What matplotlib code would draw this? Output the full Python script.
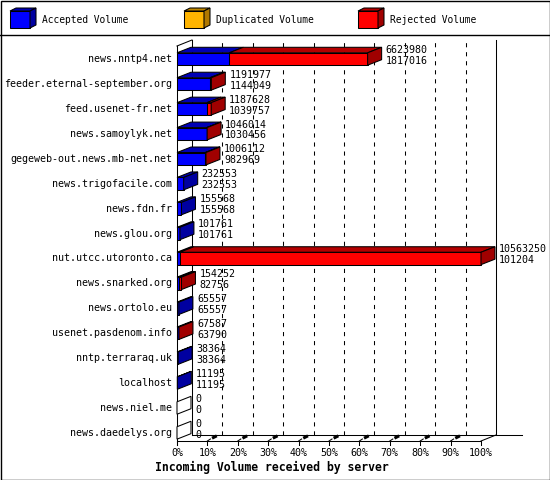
import matplotlib
matplotlib.use("Agg")
import matplotlib.pyplot as plt
from matplotlib.patches import Polygon, Rectangle
from matplotlib.lines import Line2D
from matplotlib.transforms import Affine2D

# données
servers = ["news.nntp4.net", "feeder.eternal-september.org", "feed.usenet-fr.net",
           "news.samoylyk.net", "gegeweb-out.news.mb-net.net", "news.trigofacile.com",
           "news.fdn.fr", "news.glou.org", "nut.utcc.utoronto.ca", "news.snarked.org",
           "news.ortolo.eu", "usenet.pasdenom.info", "nntp.terraraq.uk", "localhost",
           "news.niel.me", "news.daedelys.org"]
total = [6623980, 1191977, 1187628, 1046014, 1006112, 232553, 155568, 101761,
         10563250, 154252, 65557, 67587, 38364, 11195, 0, 0]
accepted = [1817016, 1144049, 1039757, 1030456, 982969, 232553, 155568, 101761,
            101204, 82756, 65557, 63790, 38364, 11195, 0, 0]
duplicated = [0, 0, 0, 0, 0, 0, 0, 0, 0, 0, 0, 0, 0, 0, 0, 0]
ticks = [0, 10, 20, 30, 40, 50, 60, 70, 80, 90, 100]
legend_names = ["Accepted Volume", "Duplicated Volume", "Rejected Volume"]

# couleurs (face avant, dessus, côté)
colors = [("#0000ff", "#0000b4", "#0000a0"),
          ("#ffb400", "#c08800", "#b07800"),
          ("#ff0000", "#b40000", "#a00000")]

W, H = 550, 480
MONO = "DejaVu Sans Mono"
plt.rcParams["lines.scale_dashes"] = False

fig = plt.figure(figsize=(W / 100, H / 100), dpi=100)
pix = Affine2D().scale(1 / W, -1 / H).translate(0, 1) + fig.transFigure


def row(p):
    return (p - 59) / 24.93


ax = fig.add_axes([177 / W, 1 - 441 / H, 304 / W, 401 / H])
ax.set_xlim(0, 100)
ax.set_ylim(row(441), row(40))
ax.axis("off")

PX = 100 / 304        # % par pixel
PY = 1 / 24.93        # ligne par pixel
LW = 0.75


def face(pts, color, z=3):
    ax.add_patch(Polygon(pts, closed=True, fc=color, ec="black", lw=LW,
                         zorder=z, clip_on=False, joinstyle="miter"))


def line(xs, ys, **kw):
    kw.setdefault("color", "black")
    kw.setdefault("lw", LW)
    ax.add_line(Line2D(xs, ys, clip_on=False, **kw))


# murs et grille
wdx, wdy = 15 * PX, -6 * PY
y_floor, y_back, y_top = row(441), row(435), row(40)
line([0, 0], [row(445), row(46)], zorder=1)
line([wdx, wdx], [y_back, y_top], zorder=1)
line([0, wdx], [row(46), y_top], zorder=1)
line([100 + wdx, 100 + wdx], [y_back, y_top], zorder=1)
line([0, 100], [y_floor, y_floor], zorder=1)
line([100, 100 + wdx], [y_floor, y_back], zorder=1)
line([wdx, (522 - 177) * PX], [y_back, y_back], zorder=1)
for k in ticks[1:-1]:
    line([k + wdx, k + wdx], [y_back, y_top], ls=(0, (3, 3.5)), zorder=1)
for k in ticks:
    line([k, k], [y_floor, row(445)], zorder=1)
    ax.text(k, row(453), f"{k}%", ha="center", va="center",
            fontsize=7.2, family=MONO)
    if 0 < k < 100:
        line([k, k + 3 * PX], [y_floor, row(439)], zorder=1)
        line([k + 6 * PX, k + 8 * PX], [row(437.5), row(436.5)], lw=2.2, zorder=1)

# barres 3D
vmax = max(total)
bdx, bdy = 14 * PX, -5.5 * PY
half = 6.2 * PY
for i in range(len(servers)):
    rej = total[i] - accepted[i] - duplicated[i]
    vals = [accepted[i], duplicated[i], rej]
    yt, yb = i - half, i + half
    x = 0
    side = "white"
    for v, (fc, tc, sc) in zip(vals, colors):
        w = v / vmax * 100
        if w <= 0:
            continue
        face([(x, yt), (x + w, yt), (x + w, yb), (x, yb)], fc)
        face([(x, yt), (x + w, yt), (x + w + bdx, yt + bdy), (x + bdx, yt + bdy)], tc)
        x += w
        side = sc
    face([(x, yt), (x, yb), (x + bdx, yb + bdy), (x + bdx, yt + bdy)], side)
    ax.text(x + bdx + 4 * PX, i - 3.8 * PY, f"{total[i]}\n{accepted[i]}",
            ha="left", va="center", fontsize=7.2, family=MONO,
            linespacing=1.12, zorder=6)
    ax.text(-5 * PX, i, servers[i], ha="right", va="center",
            fontsize=7.2, family=MONO)

# titre de l'axe
fig.text(155, 467, "Incoming Volume received by server", transform=pix,
         ha="left", va="center", fontsize=8.3, fontweight="bold", family=MONO)

# légende
for j, (name, (fc, tc, sc)) in enumerate(zip(legend_names, colors)):
    x0 = 10 + 174 * j
    for pts, c in [([(x0, 11), (x0 + 20, 11), (x0 + 20, 28), (x0, 28)], fc),
                   ([(x0, 11), (x0 + 6, 8), (x0 + 26, 8), (x0 + 20, 11)], tc),
                   ([(x0 + 20, 11), (x0 + 26, 8), (x0 + 26, 25), (x0 + 20, 28)], sc)]:
        fig.add_artist(Polygon(pts, closed=True, fc=c, ec="black", lw=LW,
                               transform=pix))
    fig.text(x0 + 32, 20, name, transform=pix, ha="left", va="center",
             fontsize=6.9, family=MONO)

fig.add_artist(Line2D([0, W], [35, 35], color="black", lw=1.0, transform=pix))
fig.add_artist(Rectangle((0.5, 0.5), W - 1, H - 1, fill=False, ec="black",
                         lw=1.0, transform=pix))

fig.savefig("out.png", dpi=100)
